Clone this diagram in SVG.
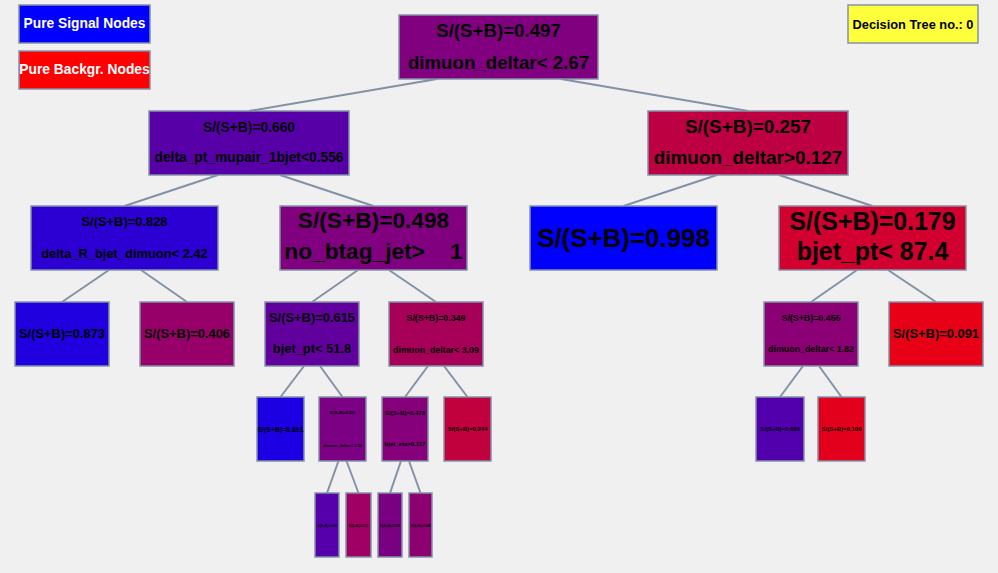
<svg xmlns="http://www.w3.org/2000/svg" width="998" height="573" viewBox="0 0 998 573">
<style>
.bg{fill:#f0f0f0}
.n{stroke:#8292a6;stroke-width:1.5}
.c line{stroke:#8292a6;stroke-width:2}
text{font-family:"Liberation Sans",Arial,Helvetica,sans-serif;font-weight:bold;text-anchor:middle;fill:#000}
.w{fill:#fff}
</style>
<rect class="bg" x="0" y="0" width="998" height="573"/>
<g id="legend-signal"><rect class="n" x="19" y="5" width="131" height="38" fill="#0000ff"/><text class="w" x="84.5" y="28" font-size="13.8">Pure Signal Nodes</text></g>
<g id="legend-background"><rect class="n" x="19" y="51" width="131" height="38" fill="#ff0000"/><text class="w" x="84.5" y="74" font-size="13.8">Pure Backgr. Nodes</text></g>
<g id="tree-number"><rect class="n" x="848" y="5" width="130" height="38" fill="#ffff3c"/><text x="913" y="29" font-size="12.8">Decision Tree no.: 0</text></g>
<g class="c" id="connectors">
<line x1="437" y1="79" x2="249" y2="111"/>
<line x1="561" y1="79" x2="748" y2="111"/>
<line x1="218" y1="175" x2="124.5" y2="206"/>
<line x1="280" y1="175" x2="373.5" y2="206"/>
<line x1="717" y1="175" x2="623.5" y2="206"/>
<line x1="779" y1="175" x2="872.5" y2="206"/>
<line x1="109" y1="270" x2="62" y2="302"/>
<line x1="141" y1="270" x2="187" y2="302"/>
<line x1="358" y1="270" x2="312" y2="302"/>
<line x1="389" y1="270" x2="436" y2="302"/>
<line x1="857" y1="270" x2="811" y2="302"/>
<line x1="888" y1="270" x2="936" y2="302"/>
<line x1="304" y1="366" x2="280.5" y2="397"/>
<line x1="320" y1="366" x2="342.5" y2="397"/>
<line x1="428" y1="366" x2="405" y2="397"/>
<line x1="444" y1="366" x2="467.5" y2="397"/>
<line x1="803" y1="366" x2="780" y2="397"/>
<line x1="819" y1="366" x2="841.5" y2="397"/>
<line x1="338.5" y1="461" x2="327" y2="493"/>
<line x1="346.5" y1="461" x2="358.5" y2="493"/>
<line x1="401" y1="461" x2="390" y2="493"/>
<line x1="409" y1="461" x2="420.5" y2="493"/>
</g>
<g id="n0"><rect class="n" x="399" y="15" width="199" height="64" fill="#80007f"/><text x="498.5" y="37" font-size="18.7">S/(S+B)=0.497</text><text x="498.5" y="69" font-size="18.7">dimuon_deltar&lt; 2.67</text></g>
<g id="n1"><rect class="n" x="149" y="111" width="200" height="64" fill="#5700a8"/><text x="249" y="132" font-size="13.8">S/(S+B)=0.660</text><text x="249" y="162" font-size="13.8">delta_pt_mupair_1bjet&lt;0.556</text></g>
<g id="n2"><rect class="n" x="648" y="111" width="200" height="64" fill="#bd0042"/><text x="748" y="133" font-size="18.9">S/(S+B)=0.257</text><text x="748" y="164" font-size="18.9">dimuon_deltar&gt;0.127</text></g>
<g id="n3"><rect class="n" x="31" y="206" width="187" height="64" fill="#2c00d3"/><text x="124.5" y="226" font-size="12.9">S/(S+B)=0.828</text><text x="124.5" y="258" font-size="12.9">delta_R_bjet_dimuon&lt; 2.42</text></g>
<g id="n4"><rect class="n" x="280" y="206" width="187" height="64" fill="#80007f"/><text x="373.5" y="228" font-size="22.7">S/(S+B)=0.498</text><text x="373.5" y="259" font-size="22.7">no_btag_jet&gt;&#160;&#160;&#160;&#160;1</text></g>
<g id="n5"><rect class="n" x="530" y="206" width="187" height="64" fill="#0000fe"/><text x="623.5" y="247" font-size="25.9">S/(S+B)=0.998</text></g>
<g id="n6"><rect class="n" x="779" y="206" width="187" height="64" fill="#d1002e"/><text x="872.5" y="230" font-size="24.9">S/(S+B)=0.179</text><text x="872.5" y="260" font-size="24.9">bjet_pt&lt; 87.4</text></g>
<g id="n7"><rect class="n" x="15" y="302" width="94" height="64" fill="#2000df"/><text x="62" y="338" font-size="12.9">S/(S+B)=0.873</text></g>
<g id="n8"><rect class="n" x="140" y="302" width="94" height="64" fill="#970068"/><text x="187" y="338" font-size="12.9">S/(S+B)=0.406</text></g>
<g id="n9"><rect class="n" x="265" y="302" width="94" height="64" fill="#62009d"/><text x="312" y="322" font-size="12.9">S/(S+B)=0.615</text><text x="312" y="353" font-size="12.9">bjet_pt&lt; 51.8</text></g>
<g id="n10"><rect class="n" x="389" y="302" width="94" height="64" fill="#a60059"/><text x="436" y="321" font-size="8.85">S/(S+B)=0.349</text><text x="436" y="353" font-size="8.85">dimuon_deltar&lt; 3.09</text></g>
<g id="n11"><rect class="n" x="764" y="302" width="94" height="64" fill="#8b0074"/><text x="811" y="321" font-size="8.85">S/(S+B)=0.455</text><text x="811" y="352" font-size="8.85">dimuon_deltar&lt; 1.82</text></g>
<g id="n12"><rect class="n" x="889" y="302" width="94" height="64" fill="#e80017"/><text x="936" y="338" font-size="12.9">S/(S+B)=0.091</text></g>
<g id="n13"><rect class="n" x="257" y="397" width="47" height="64" fill="#1c00e3"/><text x="280.5" y="432" font-size="6.9">S/(S+B)=0.891</text></g>
<g id="n14"><rect class="n" x="319" y="397" width="47" height="64" fill="#7c0083"/><text x="342.5" y="414" font-size="4">S/(S+B)=0.501</text><text x="342.5" y="447" font-size="4">dimuon_deltar&lt; 3.16</text></g>
<g id="n15"><rect class="n" x="382" y="397" width="46" height="64" fill="#85007a"/><text x="405" y="415" font-size="6">S/(S+B)=0.478</text><text x="405" y="446" font-size="6">bjet_eta&gt;0.117</text></g>
<g id="n16"><rect class="n" x="444" y="397" width="47" height="64" fill="#c1003e"/><text x="467.5" y="431" font-size="6">S/(S+B)=0.244</text></g>
<g id="n17"><rect class="n" x="756" y="397" width="48" height="64" fill="#5200ad"/><text x="780" y="431" font-size="6">S/(S+B)=0.680</text></g>
<g id="n18"><rect class="n" x="818" y="397" width="47" height="64" fill="#e3001c"/><text x="841.5" y="431" font-size="6">S/(S+B)=0.109</text></g>
<g id="n19"><rect class="n" x="315" y="493" width="24" height="64" fill="#5500aa"/><text x="327" y="527" font-size="3">S/(S+B)=0.660</text></g>
<g id="n20"><rect class="n" x="346" y="493" width="25" height="64" fill="#a00064"/><text x="358.5" y="527" font-size="3">S/(S+B)=0.371</text></g>
<g id="n21"><rect class="n" x="378" y="493" width="24" height="64" fill="#7a0082"/><text x="390" y="527" font-size="3">S/(S+B)=0.519</text></g>
<g id="n22"><rect class="n" x="409" y="493" width="23" height="64" fill="#8c0070"/><text x="420.5" y="527" font-size="3">S/(S+B)=0.446</text></g>
</svg>
